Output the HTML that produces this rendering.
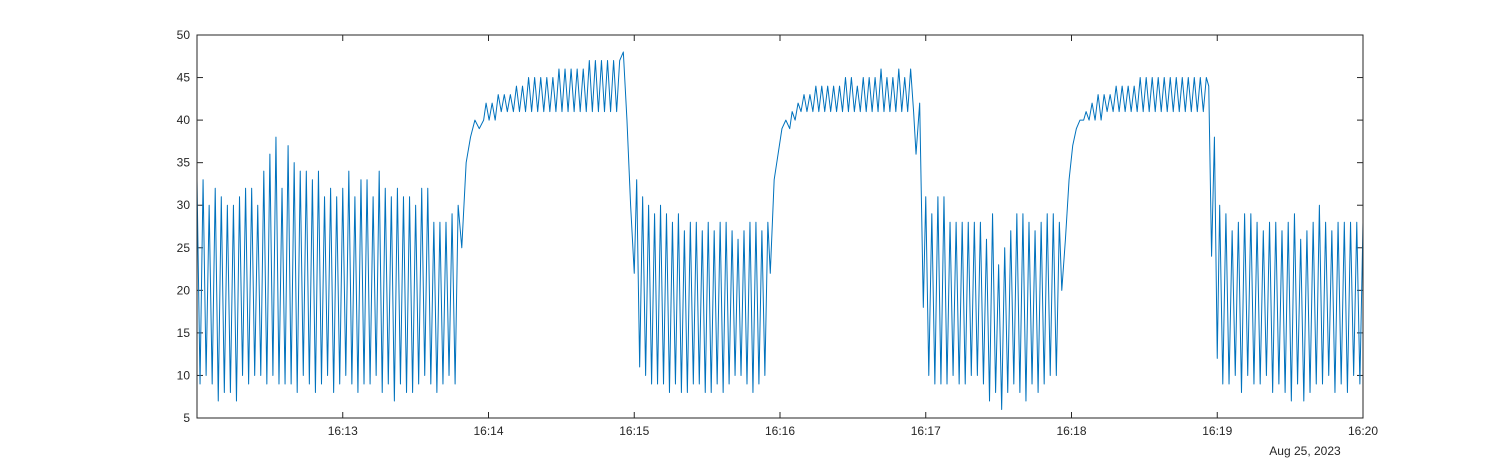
<!DOCTYPE html>
<html><head><meta charset="utf-8"><style>
body{margin:0;background:#fff;}
svg text{font-family:"Liberation Sans","DejaVu Sans",sans-serif;font-size:12px;fill:#262626;}
</style></head><body>
<svg id="chart" width="1507" height="470" xmlns="http://www.w3.org/2000/svg">
<rect x="0" y="0" width="1507" height="470" fill="#fff"/>
<g id="axes"></g>
<path id="series-line" fill="none" stroke="#0072BD" stroke-width="1" stroke-linejoin="round"/>
<rect x="197" y="35" width="1166" height="383" fill="none" stroke="#262626" stroke-width="1"/>
<text x="1305" y="455" text-anchor="middle">Aug 25, 2023</text>
</svg>
<script>
const yTicks=[5,10,15,20,25,30,35,40,45,50];
const xTickLabels=["16:13","16:14","16:15","16:16","16:17","16:18","16:19","16:20"];
const xTickSeconds=[60,120,180,240,300,360,420,480];
// oscillation peaks/troughs by segment
const seg1High=[33,33,30,32,31,30,30,31,32,32,30,34,36,38,32,37,35,34,34,33,34,31,32,31,32,34,31,33,33,31,34,32,31,32,31,31,30,32,32,28,28,28,29,30];
const seg1Low=[9,10,9,7,8,8,7,10,9,10,10,9,10,9,9,9,8,10,9,8,9,10,8,9,10,9,8,9,9,10,8,9,7,9,8,8,9,10,9,8,9,10,9];
const rise1=[25,35,38,40,39,40];
const seg2High=[42,42,43,43,43,44,44,45,45,45,45,45,46,46,46,46,46,47,47,47,47,47,47];
const seg2Low=[40,40,41,41,41,41,41,41,41,41,41,41,41,41,41,41,41,41,41,41,41,41];
const drop1=[48,40,30,22];
const seg3High=[33,31,30,29,30,29,28,29,27,28,28,27,28,27,28,28,27,26,27,28,28,27,28];
const seg3Low=[11,10,9,9,9,8,9,8,8,9,9,8,8,9,8,9,10,10,9,8,9,10];
const rise2=[22,33,36,39,40,39];
const seg4High=[41,42,43,43,44,44,44,44,44,45,45,44,45,45,45,46,45,45,46,45,46];
const seg4Low=[40,41,41,41,41,41,41,41,41,41,41,41,41,41,41,41,41,41,41,41,41];
const drop2=[36,42,18];
const seg5High=[31,29,31,31,28,28,28,28,28,28,26,29,23,25,27,29,29,28,27,28,29,29,28];
const seg5Low=[10,9,9,9,10,9,9,10,10,9,7,8,6,8,9,8,7,9,8,9,10,10];
const rise3=[20,26,33,37,39,40,40];
const seg6High=[41,42,43,43,43,44,44,44,44,45,45,45,45,45,45,45,45,45,45,45,45];
const seg6Low=[40,40,40,41,41,41,41,41,41,41,41,41,41,41,41,41,41,41,41,41];
const drop3=[44,24,38,12];
const seg7High=[30,29,27,28,29,29,28,27,28,28,27,28,29,26,27,28,30,28,27,28,28,28,28,28];
const seg7Low=[9,9,10,8,10,9,9,10,8,9,8,7,9,7,8,9,9,10,8,9,8,10,9];
// segment time spans in seconds after 16:12:00
const segStart=[0,109,119,175.5,181,236,245,296,300,356,366,416.5,421];
const segEnd=[107.5,118,174,180,235,244,295,299,355,365,415.5,420,480];

function zip(h,l){const o=[];for(let i=0;i<h.length;i++){o.push(h[i]);if(i<l.length)o.push(l[i]);}return o;}
const segValues=[zip(seg1High,seg1Low),rise1,zip(seg2High,seg2Low),drop1,zip(seg3High,seg3Low),rise2,
 zip(seg4High,seg4Low),drop2,zip(seg5High,seg5Low),rise3,zip(seg6High,seg6Low),drop3,zip(seg7High,seg7Low)];

const X0=197,X1=1363,Y0=418,Y1=35;
const xs=t=>X0+t/480*(X1-X0);
const ys=v=>Y0-(v-5)/45*(Y0-Y1);
const ns="http://www.w3.org/2000/svg";
const axes=document.getElementById('axes');
function mk(tag,attrs){const e=document.createElementNS(ns,tag);for(const k in attrs)e.setAttribute(k,attrs[k]);axes.appendChild(e);return e;}
yTicks.forEach(v=>{
 const y=ys(v);
 const t1=mk('line',{x1:X0,x2:X0+6,y1:y,y2:y,stroke:'#262626'});
 
 
 const t2=mk('line',{x1:X1-6,x2:X1,y1:y,y2:y,stroke:'#262626'});
 
 
 const tx=mk('text',{x:X0-7,y:y+4,'text-anchor':'end'});tx.textContent=v;
 
 
});
xTickSeconds.forEach((s,i)=>{
 const x=xs(s);
 const t1=mk('line',{x1:x,x2:x,y1:Y0,y2:Y0-6,stroke:'#262626'});
 
 
 const t2=mk('line',{x1:x,x2:x,y1:Y1,y2:Y1+6,stroke:'#262626'});
 
 
 const tx=mk('text',{x:x,y:Y0+17,'text-anchor':'middle'});tx.textContent=xTickLabels[i];
 
 
});
let d='';let first=true;
segValues.forEach((vals,s)=>{
 const n=vals.length;
 vals.forEach((v,i)=>{
  const t=n>1?segStart[s]+(segEnd[s]-segStart[s])*i/(n-1):segStart[s];
  d+=(first?'M':'L')+xs(t).toFixed(2)+' '+ys(v).toFixed(2);first=false;
 });
});
document.getElementById('series-line').setAttribute('d',d);
</script>
</body></html>
